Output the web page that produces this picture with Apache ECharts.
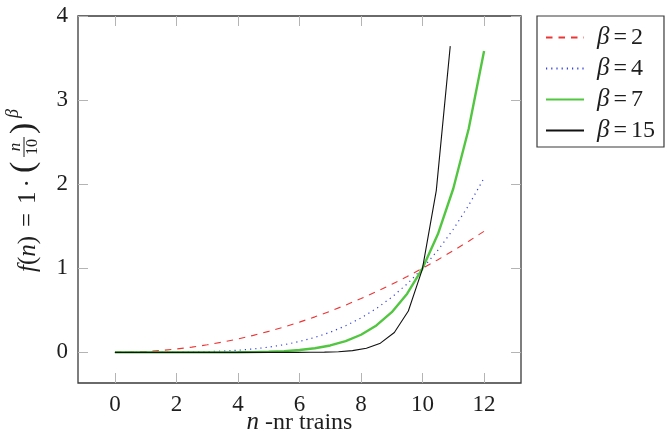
<!DOCTYPE html>
<html>
<head>
<meta charset="utf-8">
<script src="https://cdn.jsdelivr.net/npm/echarts@6/dist/echarts.min.js"></script>
<style>
  html, body { margin: 0; padding: 0; background: #fff; }
  #chart { width: 670px; height: 433px; }
</style>
</head>
<body>
<div id="chart"></div>
<script>
// sample positions n (number of trains)
const nSamples = [0, 0.5, 1, 1.5, 2, 2.5, 3, 3.5, 4, 4.5, 5, 5.5, 6, 6.5, 7, 7.5, 8, 8.5, 9, 9.5, 10, 10.5, 11, 11.5, 12];
const nSamplesB15 = [0, 0.454, 0.908, 1.363, 1.817, 2.271, 2.725, 3.179, 3.633, 4.088, 4.542, 4.996, 5.45, 5.904, 6.358, 6.813, 7.267, 7.721, 8.175, 8.629, 9.083, 9.538, 9.992, 10.446, 10.9];

// f(n) values for each exponent
const fBeta2 = [0, 0.0025, 0.01, 0.0225, 0.04, 0.0625, 0.09, 0.1225, 0.16, 0.2025, 0.25, 0.3025, 0.36, 0.4225, 0.49, 0.5625, 0.64, 0.7225, 0.81, 0.9025, 1, 1.1025, 1.21, 1.3225, 1.44];
const fBeta4 = [0, 0, 0.0001, 0.0005, 0.0016, 0.0039, 0.0081, 0.015, 0.0256, 0.041, 0.0625, 0.0915, 0.1296, 0.1785, 0.2401, 0.3164, 0.4096, 0.522, 0.6561, 0.8145, 1, 1.2155, 1.4641, 1.749, 2.0736];
const fBeta7 = [0, 0, 0, 0, 0, 0.0001, 0.0002, 0.0006, 0.0016, 0.0037, 0.0078, 0.0152, 0.028, 0.049, 0.0824, 0.1335, 0.2097, 0.3206, 0.4783, 0.6983, 1, 1.4071, 1.9487, 2.66, 3.5832];
const fBeta15 = [0, 0, 0, 0, 0, 0, 0, 0, 0, 0, 0, 0, 0.0001, 0.0004, 0.0011, 0.0032, 0.0083, 0.0207, 0.0487, 0.1095, 0.2363, 0.4919, 0.988, 1.924, 3.642];

const seriesNames = ['β=2', 'β=4', 'β=7', 'β=15'];
const xTicks = [0, 2, 4, 6, 8, 10, 12];
const yTicks = [0, 1, 2, 3, 4];

const pairs = (xs, ys) => xs.map((x, i) => [x, ys[i]]);

const SERIF = '"Liberation Serif", "DejaVu Serif", serif';
const tickGray = '#b4b4b4';
const frame = '#3a3a3a';
const ink = '#1e1e1e';

const chart = echarts.init(document.getElementById('chart'), null, { renderer: 'canvas' });

function tickStyle(values) {
  return { show: true, inside: true, length: 10, customValues: values, lineStyle: { color: tickGray, width: 1 } };
}

function baseAxis(extra) {
  return Object.assign({
    type: 'value',
    splitLine: { show: false },
    axisLine: { show: false, onZero: false }
  }, extra);
}

const option = {
  animation: false,
  backgroundColor: '#fff',
  grid: {
    left: 78, right: 149, top: 16, bottom: 50,
    outerBoundsMode: 'none', containLabel: false,
    show: true, borderColor: frame, borderWidth: 1.3, backgroundColor: 'transparent'
  },
  xAxis: [
    baseAxis({
      min: -1.2, max: 13.2, interval: 1.2, position: 'bottom',
      axisTick: tickStyle(xTicks),
      axisLabel: { customValues: xTicks, margin: 10, color: ink, fontFamily: SERIF, fontSize: 23 },
      name: '{i|n} -nr trains',
      nameLocation: 'middle', nameGap: 27, nameMoveOverlap: false,
      nameTextStyle: {
        color: ink, fontFamily: SERIF, fontSize: 24,
        rich: { i: { fontStyle: 'italic', fontFamily: SERIF, fontSize: 25, color: ink } }
      }
    }),
    baseAxis({
      min: -1.2, max: 13.2, interval: 1.2, position: 'top',
      axisTick: tickStyle(xTicks),
      axisLabel: { show: false, customValues: xTicks }
    })
  ],
  yAxis: [
    baseAxis({
      min: -0.364, max: 4, interval: 0.364, position: 'left',
      axisTick: tickStyle(yTicks),
      axisLabel: { customValues: yTicks, margin: 10, color: ink, fontFamily: SERIF, fontSize: 23 }
    }),
    baseAxis({
      min: -0.364, max: 4, interval: 0.364, position: 'right',
      axisTick: tickStyle(yTicks),
      axisLabel: { show: false, customValues: yTicks }
    })
  ],
  legend: {
    orient: 'vertical',
    left: 537, top: 16,
    padding: [9, 9, 4, 8],
    borderColor: frame, borderWidth: 1.2,
    itemWidth: 38, itemHeight: 14, itemGap: 6,
    selectedMode: false,
    itemStyle: { color: 'transparent', borderColor: 'transparent', borderWidth: 0 },
    data: seriesNames,
    formatter: name => '{g|β}{e|=}{d|' + name.split('=')[1] + '}',
    textStyle: {
      color: ink, fontFamily: SERIF, fontSize: 24, padding: [0, 0, 0, 8],
      rich: {
        g: { fontStyle: 'italic', fontFamily: SERIF, fontSize: 25, color: ink },
        e: { fontFamily: SERIF, fontSize: 24, color: ink, padding: [0, 4, 0, 4] },
        d: { fontFamily: SERIF, fontSize: 24, color: ink }
      }
    }
  },
  series: [
    {
      name: seriesNames[0], type: 'line', data: pairs(nSamples, fBeta2),
      symbol: 'none',
      lineStyle: { color: '#ee3434', width: 1.1, type: [6.5, 6] },
      itemStyle: { color: '#ee3434' }
    },
    {
      name: seriesNames[1], type: 'line', data: pairs(nSamples, fBeta4),
      symbol: 'none',
      lineStyle: { color: '#3444e0', width: 1.2, type: [1.2, 4] },
      itemStyle: { color: '#3444e0' }
    },
    {
      name: seriesNames[2], type: 'line', data: pairs(nSamples, fBeta7),
      symbol: 'none',
      lineStyle: { color: '#52c640', width: 2.4 },
      itemStyle: { color: '#52c640' }
    },
    {
      name: seriesNames[3], type: 'line', data: pairs(nSamplesB15, fBeta15),
      symbol: 'none',
      lineStyle: { color: '#111', width: 1.1 },
      itemStyle: { color: '#111' }
    }
  ],
  graphic: [
    {
      // y-axis title: f(n) = 1·(n/10)^β, rotated to read upward
      type: 'group', x: 28, y: 182, rotation: Math.PI / 2,
      children: [
        {
          type: 'text', x: -90, y: 0,
          style: {
            text: '{i|f}({i|n}){eq|=}1{dot|·}',
            fontFamily: SERIF, fontSize: 25, fill: ink,
            verticalAlign: 'middle', align: 'left',
            rich: {
              i: { fontStyle: 'italic', fontFamily: SERIF, fontSize: 25, fill: ink },
              eq: { width: 32, align: 'center', fontFamily: SERIF, fontSize: 25 },
              dot: { width: 16, align: 'center', fontFamily: SERIF, fontSize: 25 }
            }
          }
        },
        {
          type: 'text', x: 9, y: -4,
          style: { text: '(', fontFamily: SERIF, fontSize: 34, fill: ink, verticalAlign: 'middle', align: 'left' }
        },
        {
          type: 'text', x: 35, y: -12,
          style: { text: 'n', fontFamily: SERIF, fontStyle: 'italic', fontSize: 17, fill: ink, verticalAlign: 'middle', align: 'center' }
        },
        {
          type: 'line', shape: { x1: 25, y1: -4, x2: 45, y2: -4 },
          style: { stroke: ink, lineWidth: 1 }
        },
        {
          type: 'text', x: 35, y: 5,
          style: { text: '10', fontFamily: SERIF, fontSize: 16, fill: ink, verticalAlign: 'middle', align: 'center' }
        },
        {
          type: 'text', x: 48, y: -4,
          style: { text: ')', fontFamily: SERIF, fontSize: 34, fill: ink, verticalAlign: 'middle', align: 'left' }
        },
        {
          type: 'text', x: 64, y: -15,
          style: { text: 'β', fontFamily: SERIF, fontStyle: 'italic', fontSize: 18, fill: ink, verticalAlign: 'middle', align: 'left' }
        }
      ]
    }
  ]
};

chart.setOption(option);
</script>
</body>
</html>
